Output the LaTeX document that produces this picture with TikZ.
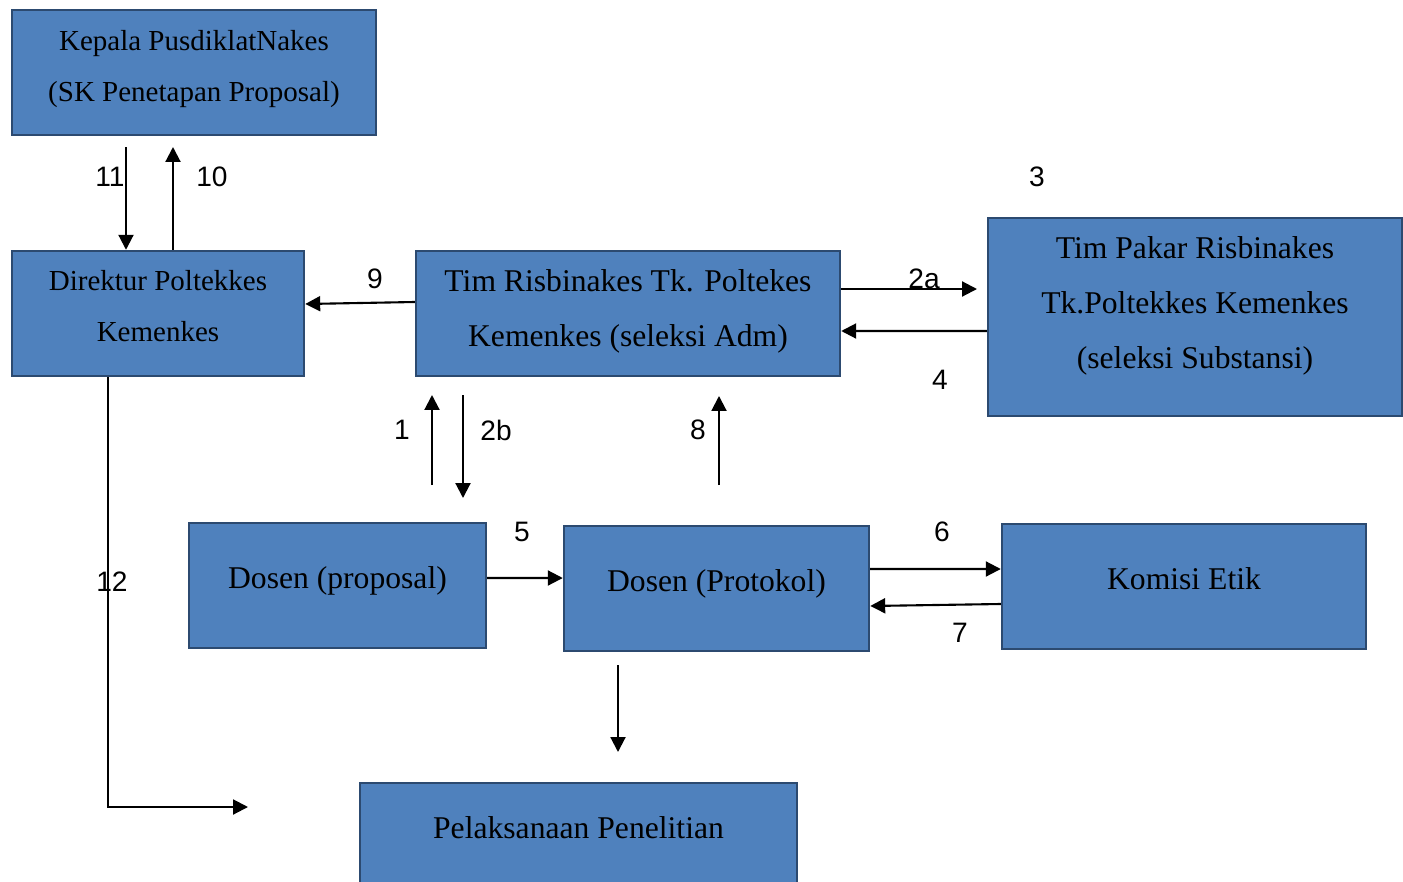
\documentclass[tikz,border=0pt]{standalone}
\usepackage{fontspec}
\setmainfont{Liberation Serif}
\newfontfamily\numfont{Liberation Sans}
\usetikzlibrary{arrows.meta}
\definecolor{boxfill}{RGB}{79,129,189}
\definecolor{boxline}{RGB}{44,74,112}
\begin{document}
\begin{tikzpicture}
                \tikzstyle{box}=[draw=boxline, line width=1.4pt, fill=boxfill, align=center, font=\fontsize{18}{31.3}\selectfont, minimum height=2.5cm]
                \tikzstyle{smallbox}=[box, font=\fontsize{16.5}{29}\selectfont]
                \tikzstyle{arr}=[line width=1.2pt, -{Triangle[length=8.5pt,width=8.5pt]}]
                \tikzstyle{num}=[font=\numfont\fontsize{16}{18}\selectfont]
                
                \useasboundingbox (0,0) rectangle (28.06,-17.64);
                
                \node[smallbox, minimum width=7.28cm, text depth=8pt] (kepala) at (3.88,-1.45) {Kepala PusdiklatNakes\\(SK Penetapan Proposal)};
                \node[smallbox, minimum width=5.84cm, text depth=9pt] (direktur) at (3.16,-6.27) {Direktur Poltekkes\\Kemenkes};
                \node[box, minimum width=8.48cm, text depth=6pt] (timris) at (12.56,-6.27) {Tim Risbinakes Tk. Poltekes\\Kemenkes (seleksi Adm)};
                \node[box, minimum width=8.28cm, minimum height=3.96cm, text depth=16.6pt] (pakar) at (23.9,-6.34) {Tim Pakar Risbinakes\\Tk.Poltekkes Kemenkes\\(seleksi Substansi)};
                \node[box, minimum width=5.94cm, text depth=9pt] (dosprop) at (6.75,-11.71) {Dosen (proposal)};
                \node[box, minimum width=6.1cm, text depth=9pt] (dosprot) at (14.33,-11.77) {Dosen (Protokol)};
                \node[box, minimum width=7.28cm, text depth=8.6pt] (komisi) at (23.68,-11.73) {Komisi Etik};
                \node[box, minimum width=8.74cm, text depth=21pt] (pelaks) at (11.57,-16.91) {Pelaksanaan Penelitian};
                
                \coordinate (c11) at (2.52,-2.94);
                \coordinate (c10) at (3.46,-2.94);
                \coordinate (c2a) at (19.54,-5.78);
                \coordinate (c1s) at (8.64,-9.7);
                \coordinate (c1e) at (8.64,-7.9);
                \coordinate (c2bs) at (9.26,-7.9);
                \coordinate (c2be) at (9.26,-9.96);
                \coordinate (c8s) at (14.38,-9.7);
                \coordinate (c8e) at (14.38,-7.92);
                \coordinate (cds) at (12.36,-13.3);
                \coordinate (cde) at (12.36,-15.04);
                \coordinate (c12a) at (2.16,-16.14);
                \coordinate (c12b) at (4.96,-16.14);
                
                \draw[arr] (c11) -- (c11 |- direktur.north);
                \draw[arr] (c10 |- direktur.north) -- (c10);
                \draw[arr] ([yshift=0.23cm]timris.west) -- ([yshift=0.19cm]direktur.east);
                \draw[arr] ([yshift=0.49cm]timris.east) -- (c2a);
                \draw[arr] ([yshift=-0.28cm]pakar.west) -- ([yshift=-0.35cm]timris.east);
                \draw[arr] (c1s) -- (c1e);
                \draw[arr] (c2bs) -- (c2be);
                \draw[arr] (c8s) -- (c8e);
                \draw[arr] ([yshift=0.15cm]dosprop.east) -- ([yshift=0.21cm]dosprot.west);
                \draw[arr] ([yshift=0.39cm]dosprot.east) -- ([yshift=0.35cm]komisi.west);
                \draw[arr] ([yshift=-0.35cm]komisi.west) -- ([yshift=-0.35cm]dosprot.east);
                \draw[arr] (cds) -- (cde);
                \draw[arr] (direktur.south -| c12a) -- (c12a) -- (c12b);
                
                \node[num] (l11) at (2.2,-3.54) {11};
                \node[num] (l10) at (4.24,-3.54) {10};
                \node[num] (l3) at (20.74,-3.54) {3};
                \node[num] (l9) at (7.5,-5.58) {9};
                \node[num] (l2a) at (18.48,-5.58) {2a};
                \node[num] (l4) at (18.8,-7.6) {4};
                \node[num] (l1) at (8.04,-8.6) {1};
                \node[num] (l2b) at (9.92,-8.6) {2b};
                \node[num] (l8) at (13.96,-8.6) {8};
                \node[num] (l5) at (10.44,-10.64) {5};
                \node[num] (l6) at (18.84,-10.64) {6};
                \node[num] (l12) at (2.24,-11.64) {12};
                \node[num] (l7) at (19.2,-12.66) {7};
\end{tikzpicture}
\end{document}
